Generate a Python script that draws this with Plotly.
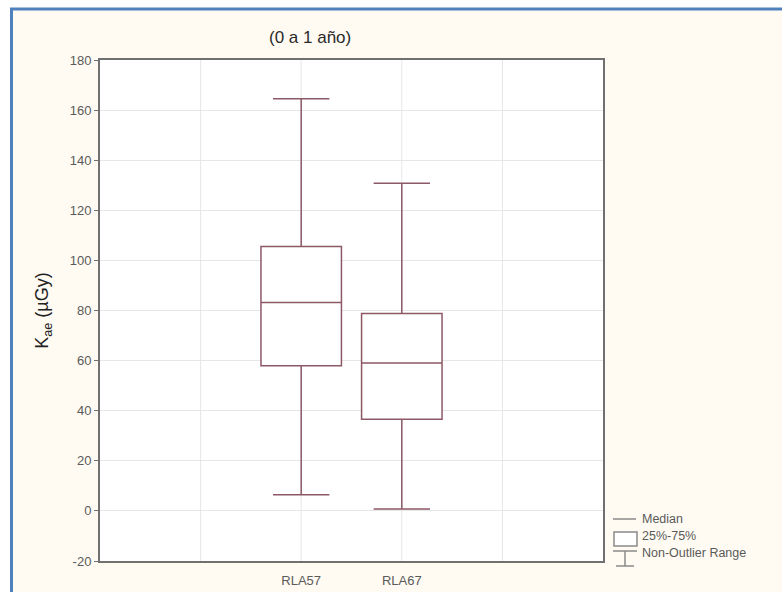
import plotly.graph_objects as go

# Summary statistics per group (K_ae, µGy)
groups = ["RLA57", "RLA67"]
positions = [2, 3]
q1 = [57.9, 36.6]
median = [83.2, 59.0]
q3 = [105.5, 78.8]
low = [6.4, 0.8]
high = [164.5, 130.8]

y_ticks = [-20, 0, 20, 40, 60, 80, 100, 120, 140, 160, 180]
y_tick_text = ["-20", "0", "20", "40", "60", "80", "100", "120", "140", "160", "180"]
legend_labels = ["Median", "25%-75%", "Non-Outlier Range"]

box_color = "#8c5866"
text_color = "#5a5a5a"
cream = "#fffaf2"
FONT = "Liberation Sans, Arial"

W, H = 782, 592
L, R, T, B = 100, 179, 60, 31
pw, ph = W - L - R, H - T - B


def px_x(p):
    return (p - L) / pw


def px_y(p):
    return (H - B - p) / ph


fig = go.Figure()
fig.add_trace(go.Box(
    x=positions,
    q1=q1, median=median, q3=q3,
    lowerfence=low, upperfence=high,
    width=0.8, whiskerwidth=0.7,
    fillcolor="white",
    line=dict(color=box_color, width=1.5),
    boxpoints=False,
    hoverinfo="skip",
    showlegend=False,
))

shapes = [
    # white margin strips and blue frame
    dict(type="rect", xref="paper", yref="paper", x0=px_x(0), x1=px_x(W), y0=px_y(0), y1=px_y(8),
         fillcolor="white", line=dict(width=0), layer="above"),
    dict(type="rect", xref="paper", yref="paper", x0=px_x(0), x1=px_x(10), y0=px_y(0), y1=px_y(H),
         fillcolor="white", line=dict(width=0), layer="above"),
    dict(type="line", xref="paper", yref="paper", x0=px_x(10), x1=px_x(W), y0=px_y(9), y1=px_y(9),
         line=dict(color="#4f81bd", width=3), layer="above"),
    dict(type="line", xref="paper", yref="paper", x0=px_x(11.5), x1=px_x(11.5), y0=px_y(8), y1=px_y(H),
         line=dict(color="#4f81bd", width=3), layer="above"),
    # legend glyphs
    dict(type="line", xref="paper", yref="paper", x0=px_x(613), x1=px_x(636), y0=px_y(519), y1=px_y(519),
         line=dict(color="#8a8a8a", width=1.5)),
    dict(type="rect", xref="paper", yref="paper", x0=px_x(614), x1=px_x(637), y0=px_y(532), y1=px_y(546),
         fillcolor="white", line=dict(color="#8a8a8a", width=1.5)),
    dict(type="line", xref="paper", yref="paper", x0=px_x(613), x1=px_x(637), y0=px_y(551), y1=px_y(551),
         line=dict(color="#8a8a8a", width=1.5)),
    dict(type="line", xref="paper", yref="paper", x0=px_x(625), x1=px_x(625), y0=px_y(551), y1=px_y(566),
         line=dict(color="#8a8a8a", width=1.5)),
    dict(type="line", xref="paper", yref="paper", x0=px_x(616), x1=px_x(634), y0=px_y(566), y1=px_y(566),
         line=dict(color="#8a8a8a", width=1.5)),
]

annotations = [
    dict(text="(0 a 1 año)", xref="paper", yref="paper", x=px_x(310), y=px_y(38),
         xanchor="center", yanchor="middle",
         showarrow=False, font=dict(size=17, color="#2a2a2a", family=FONT)),
]
for lbl, py in zip(legend_labels, [519, 536, 553]):
    annotations.append(dict(text=lbl, xref="paper", yref="paper", x=px_x(640), y=px_y(py),
                            xanchor="left", yanchor="middle", showarrow=False,
                            font=dict(size=12.5, color=text_color, family=FONT)))

fig.update_layout(
    width=W, height=H,
    margin=dict(l=L, r=R, t=T, b=B, autoexpand=False),
    paper_bgcolor=cream,
    plot_bgcolor="white",
    showlegend=False,
    shapes=shapes,
    annotations=annotations,
    font=dict(family=FONT, color=text_color, size=13),
    xaxis=dict(
        range=[0, 5], tickmode="array", tickvals=positions, ticktext=groups,
        showgrid=False, zeroline=False, automargin=False,
        showline=True, linecolor="#707070", linewidth=2, mirror=True,
        ticks="outside", ticklen=6, tickcolor="rgba(0,0,0,0)",
        tickfont=dict(size=13, color=text_color),
    ),
    yaxis=dict(
        range=[-20, 180], tickmode="array", tickvals=y_ticks, ticktext=y_tick_text,
        showgrid=True, gridcolor="#e6e6e6", gridwidth=1, zeroline=False, automargin=False,
        showline=True, linecolor="#707070", linewidth=2, mirror=True,
        ticks="outside", ticklen=4, tickcolor="#707070",
        tickfont=dict(size=13, color=text_color),
        title=dict(text="K<sub>ae</sub> (µGy)", font=dict(size=18, color="#222222"), standoff=16),
    ),
)

# vertical grid at integer x positions
for xv in [1, 2, 3, 4]:
    fig.add_shape(type="line", xref="x", yref="paper", x0=xv, x1=xv, y0=0, y1=1,
                  line=dict(color="#e6e6e6", width=1), layer="below")

fig.write_html("out.html")
